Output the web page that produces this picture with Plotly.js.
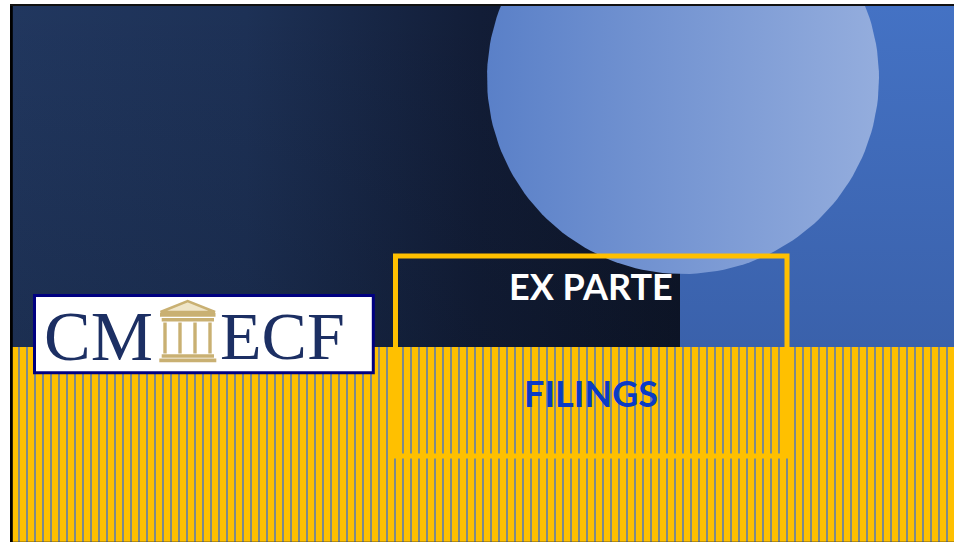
<!DOCTYPE html>
<html>
<head>
<meta charset="utf-8">
<script src="https://cdn.plot.ly/plotly-3.0.1.min.js"></script>
<style>html,body{margin:0;padding:0;background:#fff;}#chart{width:954px;height:542px;}</style>
</head>
<body>
<div id="chart"></div>
<script>
// ---- slide content ----
const titleLines = ['EX PARTE', 'FILINGS'];
const titleColors = ['#ffffff', '#0a3bc6'];
const logoWords = ['CM', 'ECF'];
const logoColor = '#1c2f63';
const goldColor = '#c9b072';

// ---- geometry (pixel-like coordinate space) ----
const W = 954, H = 542;
const plotLeft = 10, plotTop = 4;
const bandTop = 347;          // where the striped band starts
const splitX = 680;           // dark panel / blue panel boundary
const circle = {cx: 683, cy: 78, r: 196};
const stripeStart = 19, stripeStep = 8;

const traces = [];
// dark panel gradient
traces.push({
  x: [12, splitX, splitX, 12, 12], y: [6, 6, bandTop, bandTop, 6],
  type: 'scatter', mode: 'lines', line: {width: 0}, fill: 'toself', hoverinfo: 'skip',
  fillgradient: {type: 'horizontal', colorscale: [[0, '#21375f'], [0.35, '#1d3156'], [0.7, '#121d37'], [1, '#0e1629']]}
});
// subtle darkening toward the top
traces.push({
  x: [12, splitX, splitX, 12, 12], y: [6, 6, bandTop, bandTop, 6],
  type: 'scatter', mode: 'lines', line: {width: 0}, fill: 'toself', hoverinfo: 'skip',
  fillgradient: {type: 'vertical', colorscale: [[0, 'rgba(5,10,20,0.18)'], [1, 'rgba(5,10,20,0)']]}
});
// blue panel gradient
traces.push({
  x: [splitX, W, W, splitX, splitX], y: [6, 6, bandTop, bandTop, 6],
  type: 'scatter', mode: 'lines', line: {width: 0}, fill: 'toself', hoverinfo: 'skip',
  fillgradient: {type: 'vertical', colorscale: [[0, '#3a61ab'], [1, '#4472c4']]}
});
// circle
const cxs = [], cys = [];
for (let a = 0; a <= 360; a += 2) {
  const t = a * Math.PI / 180;
  cxs.push(circle.cx + circle.r * Math.cos(t));
  cys.push(circle.cy + circle.r * Math.sin(t));
}
traces.push({
  x: cxs, y: cys, type: 'scatter', mode: 'lines', line: {width: 0}, fill: 'toself', hoverinfo: 'skip',
  fillgradient: {type: 'horizontal', colorscale: [[0, '#5a80c8'], [1, '#94addd']]}
});

const shapes = [];
// yellow striped band
shapes.push({type: 'rect', xref: 'x', yref: 'y', x0: 12, x1: W, y0: bandTop, y1: H,
  fillcolor: '#ffc000', line: {width: 0}, layer: 'above'});
for (let sx = stripeStart; sx < W; sx += stripeStep) {
  shapes.push({type: 'line', xref: 'x', yref: 'y', x0: sx, x1: sx, y0: bandTop, y1: H,
    line: {color: '#718499', width: 1.8}, layer: 'above'});
}
shapes.push({type: 'line', xref: 'x', yref: 'y', x0: 12, x1: W, y0: 541.5, y1: 541.5,
  line: {color: 'rgba(60,50,20,0.35)', width: 1}, layer: 'above'});
// title box outline
shapes.push({type: 'rect', xref: 'x', yref: 'y', x0: 395.5, x1: 787, y0: 256, y1: 456,
  line: {color: '#ffc000', width: 5}, fillcolor: 'rgba(0,0,0,0)', layer: 'above'});
// logo frame
shapes.push({type: 'rect', xref: 'x', yref: 'y', x0: 34.5, x1: 373.3, y0: 295.5, y1: 372.7,
  fillcolor: '#ffffff', line: {color: '#000080', width: 3}, layer: 'above'});
// courthouse icon
shapes.push({type: 'path', xref: 'x', yref: 'y', path: 'M 160.5 312 L 187.7 301 L 215 312 Z',
  fillcolor: '#efe5c8', line: {color: goldColor, width: 2.5}, layer: 'above'});
const gRect = (x0, x1, y0, y1) => shapes.push({type: 'rect', xref: 'x', yref: 'y', x0, x1, y0, y1,
  fillcolor: goldColor, line: {width: 0}, layer: 'above'});
gRect(160, 215.5, 313, 316.7);
gRect(161.7, 214, 318, 321.5);
[163.3, 178.3, 193.3, 208.3].forEach(c => gRect(c, c + 3.4, 322.5, 353.5));
gRect(161.7, 214, 354.3, 357.7);
gRect(159.3, 216.3, 358.6, 362.2);
// slide border
shapes.push({type: 'line', xref: 'x', yref: 'y', x0: 11.3, x1: 11.3, y0: 4, y1: H,
  line: {color: '#000000', width: 3}, layer: 'above'});
shapes.push({type: 'line', xref: 'x', yref: 'y', x0: 10, x1: W, y0: 5, y1: 5,
  line: {color: '#111111', width: 2}, layer: 'above'});

const annotations = [
  {x: 591, y: 286, text: '<b>' + titleLines[0] + '</b>', font: {family: 'Lato', size: 36, color: titleColors[0]}},
  {x: 591, y: 393, text: '<b>' + titleLines[1] + '</b>', font: {family: 'Lato', size: 36, color: titleColors[1]}},
  {x: 98, y: 336, text: logoWords[0], font: {family: 'Liberation Serif', size: 70, color: logoColor}},
  {x: 282, y: 336, text: logoWords[1], font: {family: 'Liberation Serif', size: 68, color: logoColor}}
].map(a => Object.assign({xref: 'x', yref: 'y', showarrow: false, xanchor: 'center', yanchor: 'middle'}, a));

const layout = {
  width: W, height: H, margin: {l: 0, r: 0, t: 0, b: 0, pad: 0},
  paper_bgcolor: '#ffffff', plot_bgcolor: 'rgba(0,0,0,0)', showlegend: false,
  xaxis: {domain: [plotLeft / W, 1], range: [plotLeft, W], visible: false, fixedrange: true},
  yaxis: {domain: [0, (H - plotTop) / H], range: [H, plotTop], visible: false, fixedrange: true},
  shapes, annotations
};
Plotly.newPlot('chart', traces, layout, {staticPlot: true, displayModeBar: false});
</script>
</body>
</html>
